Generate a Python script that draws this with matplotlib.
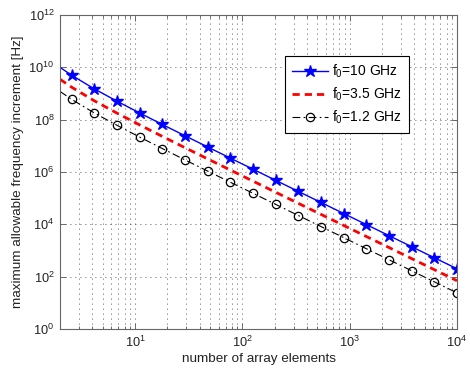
import matplotlib
matplotlib.use("Agg")
import matplotlib.pyplot as plt
import matplotlib.ticker as mticker
import numpy as np

plt.rcParams['font.family'] = ['Liberation Sans', 'DejaVu Sans']
plt.rcParams['mathtext.fontset'] = 'custom'
plt.rcParams['mathtext.rm'] = 'Liberation Sans'
plt.rcParams['mathtext.it'] = 'Liberation Sans'
plt.rcParams['mathtext.bf'] = 'Liberation Sans'

# number of array elements (line start + marker positions)
n_elements = [2, 2.57, 4.18, 6.80, 11.05, 17.98, 29.24, 47.55, 77.3, 125.7,
              204.5, 332.5, 540.7, 879.4, 1430, 2325, 3781, 6149, 10000]

# maximum allowable frequency increment [Hz]
f_10GHz = [1.0e10, 4.96e9, 1.50e9, 5.07e8, 1.80e8, 6.55e7, 2.42e7, 9.04e6,
           3.39e6, 1.28e6, 4.81e5, 1.81e5, 6.85e4, 2.59e4, 9.79e3, 3.70e3,
           1.40e3, 529, 200]
f_3p5GHz = [3.5e9, 1.74e9, 5.25e8, 1.77e8, 6.30e7, 2.29e7, 8.47e6, 3.16e6,
            1.19e6, 4.48e5, 1.68e5, 6.34e4, 2.40e4, 9.07e3, 3.43e3, 1.30e3,
            490, 185, 70]
f_1p2GHz = [1.2e9, 5.95e8, 1.80e8, 6.08e7, 2.16e7, 7.86e6, 2.90e6, 1.08e6,
            4.07e5, 1.54e5, 5.77e4, 2.17e4, 8.22e3, 3.11e3, 1.17e3, 444,
            168, 63.5, 24]

labels = ['f$_0$=10 GHz', 'f$_0$=3.5 GHz', 'f$_0$=1.2 GHz']
y_ticks = [1e0, 1e2, 1e4, 1e6, 1e8, 1e10, 1e12]

fig = plt.figure(figsize=(4.7, 3.7), dpi=100)
ax = fig.add_axes([60/470, 1-329/370, 397/470, 314/370])

ax.plot(n_elements, f_10GHz, color='blue', lw=1.0, marker='*', markersize=9,
        markevery=slice(1, None), label=labels[0])
ax.plot(n_elements, f_3p5GHz, color='red', lw=2.0, linestyle=(0, (2.6, 1.8)),
        label=labels[1])
ax.plot(n_elements, f_1p2GHz, color='black', lw=0.8, linestyle=(0, (7, 3, 1.5, 3)),
        marker='o', markersize=6, markerfacecolor='none', markeredgewidth=0.9,
        markevery=slice(1, None), label=labels[2])

ax.set_xscale('log')
ax.set_yscale('log')
ax.set_xlim(2, 1e4)
ax.set_ylim(1e0, 1e12)
ax.set_yticks(y_ticks)
ax.yaxis.set_minor_locator(mticker.NullLocator())
ax.xaxis.set_minor_locator(mticker.LogLocator(base=10, subs=np.arange(2, 10)))
ax.xaxis.set_minor_formatter(mticker.NullFormatter())

grid_kw = dict(color='#222222', linestyle=(0, (1, 5)), linewidth=0.6)
ax.grid(True, which='major', axis='both', **grid_kw)
ax.grid(True, which='minor', axis='x', **grid_kw)

for s in ax.spines.values():
    s.set_color('#666666')
    s.set_linewidth(0.8)
ax.tick_params(which='both', direction='in', top=True, right=True,
               color='#555555', labelsize=9.2, labelcolor='#222222')
ax.tick_params(which='major', length=4, width=0.6, pad=4)
ax.tick_params(which='minor', length=2, width=0.6)

ax.set_xlabel('number of array elements', fontsize=9.7, color='#222222', labelpad=2)
ax.set_ylabel('maximum allowable frequency increment [Hz]', fontsize=9.7,
              color='#222222', labelpad=3)

leg = ax.legend(loc='upper left', bbox_to_anchor=(0.567, 0.870), borderaxespad=0,
                fontsize=10, fancybox=False, framealpha=1, edgecolor='black',
                handlelength=2.6, handletextpad=0.3, labelspacing=0.4,
                borderpad=0.5)
leg.get_frame().set_linewidth(0.8)

fig.savefig('out.png', dpi=100)
